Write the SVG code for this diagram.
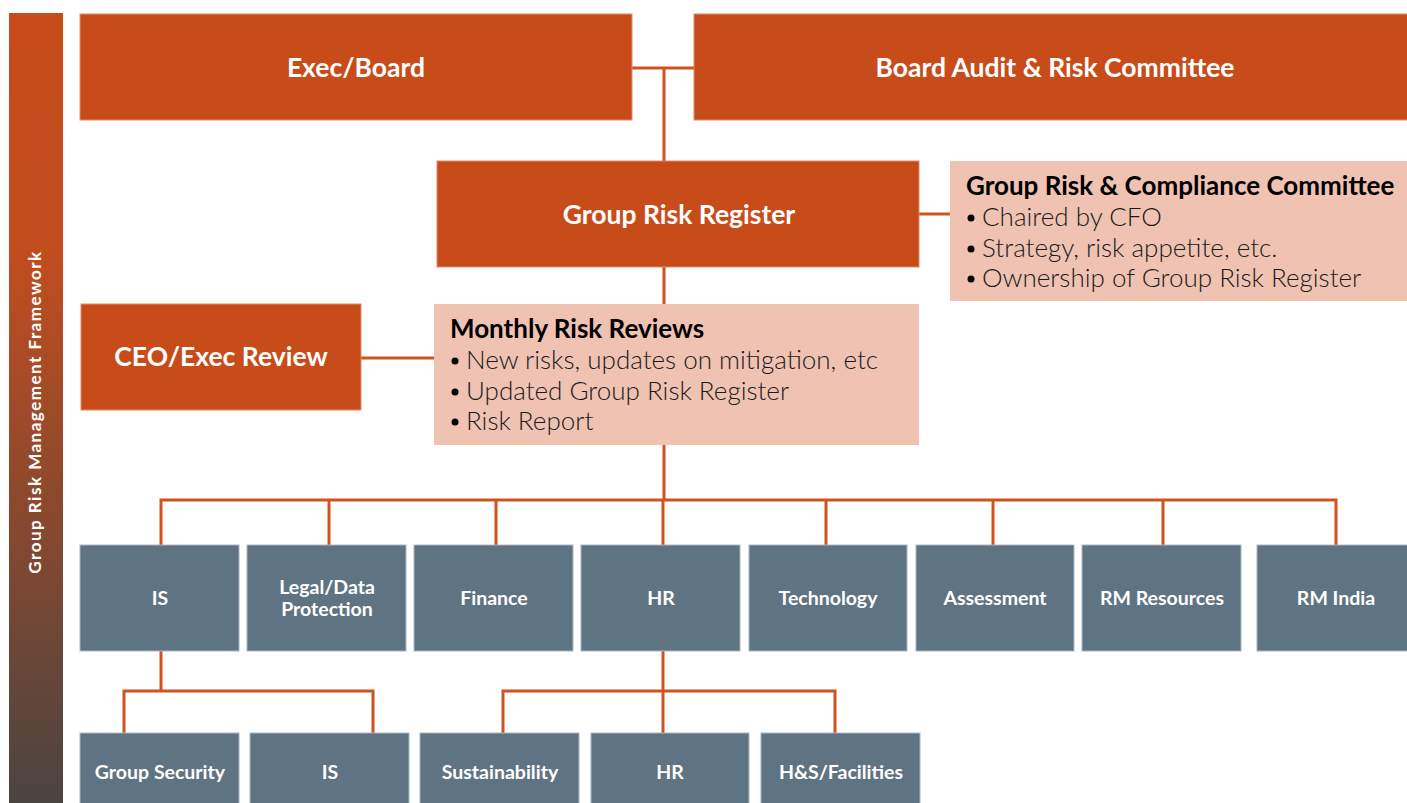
<svg xmlns="http://www.w3.org/2000/svg" width="1407" height="803" viewBox="0 0 1407 803">
  <defs>
    <linearGradient id="sideGrad" x1="0" y1="0" x2="0" y2="1">
      <stop offset="0" stop-color="#C84C1A"/>
      <stop offset="0.3" stop-color="#C24D1F"/>
      <stop offset="1" stop-color="#4A4440"/>
    </linearGradient>
    <style>
      .lead { fill: #C84C1A; stroke: #E08A68; stroke-width: 1; }
      .note { fill: #F0C2B2; }
      .unit { fill: #5F7482; stroke: #A9B6BF; stroke-width: 1; }
      .wire { fill: none; stroke: #D0521E; stroke-width: 3; }
      .big  { font-family: "Lato", "Liberation Sans", sans-serif; font-weight: 700; font-size: 26.5px; fill: #FFFFFF; text-anchor: middle; }
      .small { font-family: "Lato", "Liberation Sans", sans-serif; font-weight: 700; font-size: 19.5px; fill: #FFFFFF; text-anchor: middle; }
      .head { font-family: "Lato", "Liberation Sans", sans-serif; font-weight: 700; font-size: 26px; fill: #000000; }
      .item { font-family: "Lato", "Liberation Sans", sans-serif; font-weight: 300; font-size: 26px; fill: #1A1A1A; }
      .dot  { fill: #000000; }
      .side { font-family: "Lato", "Liberation Sans", sans-serif; font-weight: 700; font-size: 17px; letter-spacing: 1.5px; fill: #FFFFFF; text-anchor: middle; }
    </style>
  </defs>

  <rect width="1407" height="803" fill="#FFFFFF"/>

  <!-- side banner -->
  <g id="framework">
    <rect x="9" y="13" width="54" height="790" fill="url(#sideGrad)"/>
    <text class="side" transform="translate(41,412) rotate(-90)">Group Risk Management Framework</text>
  </g>

  <!-- connectors -->
  <g id="connectors" class="wire">
    <path d="M632 68 H695"/>
    <path d="M664 68 V162"/>
    <path d="M919 214 H950"/>
    <path d="M664 267 V305"/>
    <path d="M361 358 H434"/>
    <path d="M664 445 V500"/>
    <path d="M161 545 V500 H1336 V545"/>
    <path d="M329 500 V545"/>
    <path d="M496 500 V545"/>
    <path d="M663 500 V545"/>
    <path d="M826 500 V545"/>
    <path d="M993 500 V545"/>
    <path d="M1163 500 V545"/>
    <path d="M161 651 V691"/>
    <path d="M124 733 V691 H373 V733"/>
    <path d="M663 651 V733"/>
    <path d="M503 733 V691 H835 V733"/>
  </g>

  <!-- top tier -->
  <g id="exec-board">
    <rect class="lead" x="80" y="14" width="552" height="106"/>
    <text class="big" x="356" y="77">Exec/Board</text>
  </g>
  <g id="board-audit">
    <rect class="lead" x="694" y="14" width="720" height="106"/>
    <text class="big" x="1055" y="77">Board Audit &amp; Risk Committee</text>
  </g>

  <g id="group-risk-register">
    <rect class="lead" x="437" y="161" width="482" height="106"/>
    <text class="big" x="679" y="224">Group Risk Register</text>
  </g>

  <g id="grcc">
    <rect class="note" x="950" y="161" width="460" height="140"/>
    <text class="head" x="966" y="195">Group Risk &amp; Compliance Committee</text>
    <circle class="dot" cx="971" cy="218" r="3.5"/><text class="item" x="982" y="226">Chaired by CFO</text>
    <circle class="dot" cx="971" cy="249" r="3.5"/><text class="item" x="982" y="257">Strategy, risk appetite, etc.</text>
    <circle class="dot" cx="971" cy="279" r="3.5"/><text class="item" x="982" y="287">Ownership of Group Risk Register</text>
  </g>

  <g id="ceo-review">
    <rect class="lead" x="81" y="304" width="280" height="106"/>
    <text class="big" x="221" y="366">CEO/Exec Review</text>
  </g>

  <g id="monthly-reviews">
    <rect class="note" x="434" y="304" width="485" height="141"/>
    <text class="head" x="450" y="338">Monthly Risk Reviews</text>
    <circle class="dot" cx="455" cy="361" r="3.5"/><text class="item" x="466" y="369">New risks, updates on mitigation, etc</text>
    <circle class="dot" cx="455" cy="392" r="3.5"/><text class="item" x="466" y="400">Updated Group Risk Register</text>
    <circle class="dot" cx="455" cy="422" r="3.5"/><text class="item" x="466" y="430">Risk Report</text>
  </g>

  <!-- business units -->
  <g id="unit-is">
    <rect class="unit" x="80" y="545" width="159" height="106"/>
    <text class="small" x="160" y="605">IS</text>
  </g>
  <g id="unit-legal">
    <rect class="unit" x="247" y="545" width="159" height="106"/>
    <text class="small" x="327" y="594">Legal/Data</text>
    <text class="small" x="327" y="616">Protection</text>
  </g>
  <g id="unit-finance">
    <rect class="unit" x="414" y="545" width="159" height="106"/>
    <text class="small" x="494" y="605">Finance</text>
  </g>
  <g id="unit-hr">
    <rect class="unit" x="581" y="545" width="159" height="106"/>
    <text class="small" x="661" y="605">HR</text>
  </g>
  <g id="unit-technology">
    <rect class="unit" x="749" y="545" width="158" height="106"/>
    <text class="small" x="828" y="605">Technology</text>
  </g>
  <g id="unit-assessment">
    <rect class="unit" x="916" y="545" width="158" height="106"/>
    <text class="small" x="995" y="605">Assessment</text>
  </g>
  <g id="unit-rm-resources">
    <rect class="unit" x="1082" y="545" width="159" height="106"/>
    <text class="small" x="1162" y="605">RM Resources</text>
  </g>
  <g id="unit-rm-india">
    <rect class="unit" x="1257" y="545" width="160" height="106"/>
    <text class="small" x="1336" y="605">RM India</text>
  </g>

  <!-- sub-units -->
  <g id="sub-group-security">
    <rect class="unit" x="80" y="733" width="159" height="80"/>
    <text class="small" x="160" y="779">Group Security</text>
  </g>
  <g id="sub-is">
    <rect class="unit" x="250" y="733" width="159" height="80"/>
    <text class="small" x="330" y="779">IS</text>
  </g>
  <g id="sub-sustainability">
    <rect class="unit" x="420" y="733" width="159" height="80"/>
    <text class="small" x="500" y="779">Sustainability</text>
  </g>
  <g id="sub-hr">
    <rect class="unit" x="591" y="733" width="158" height="80"/>
    <text class="small" x="670" y="779">HR</text>
  </g>
  <g id="sub-hs-facilities">
    <rect class="unit" x="761" y="733" width="159" height="80"/>
    <text class="small" x="841" y="779">H&amp;S/Facilities</text>
  </g>
</svg>
